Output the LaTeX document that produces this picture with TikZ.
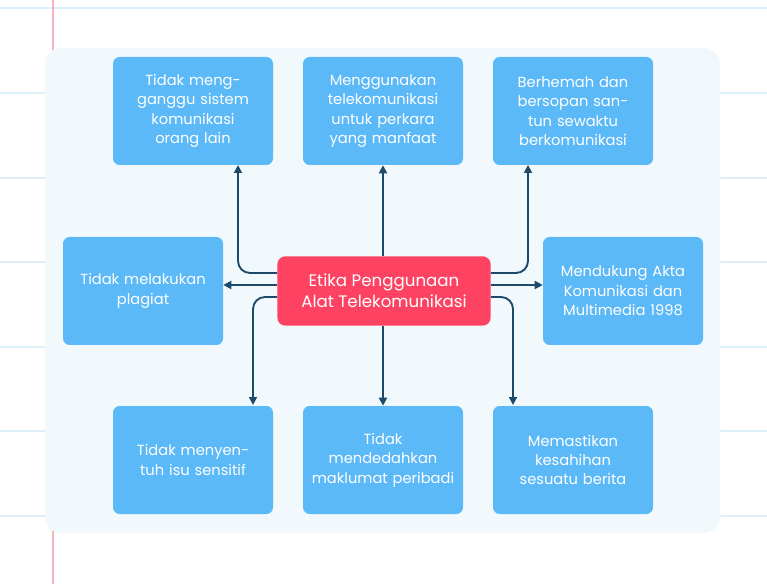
\documentclass[tikz,border=0pt]{standalone}
\usepackage{fontspec}
\setmainfont{Poppins}
\usetikzlibrary{positioning, arrows.meta}
\definecolor{boxblue}{HTML}{5BB9F8}
\definecolor{hubred}{HTML}{FE4262}
\definecolor{linknavy}{HTML}{1E4A6A}
\definecolor{panelbg}{HTML}{F1F9FD}
\definecolor{ruleblue}{HTML}{DCEFFA}
\definecolor{marginred}{HTML}{F6B3BE}

\tikzset{
    topic/.style={draw=none, fill=boxblue, rounded corners=5pt, text=white,
        minimum width=120pt, minimum height=81pt, text width=108pt, align=center,
        font=\fontsize{11}{14.5}\selectfont},
    hub/.style={fill=hubred, rounded corners=6pt, text=white,
        minimum width=160pt, minimum height=52pt, align=center,
        font=\fontsize{12.5}{16}\selectfont},
    link/.style={draw=linknavy, line width=1.4pt, rounded corners=9pt,
        -{Triangle[length=6pt, width=6pt]}},
}

\begin{document}
\begin{tikzpicture}[x=0.75pt, y=-0.75pt]
\useasboundingbox (0,0) rectangle (767,584);
% notebook page
\foreach \y in {8,93,178,262,347,431,516}
    \draw[ruleblue, line width=1pt] (0,\y) -- (767,\y);
\draw[marginred, line width=1pt] (53,0) -- (53,584);
\fill[panelbg, rounded corners=12pt] (45,48) rectangle (720,533);

\node[hub] (hub) at (384,291) {Etika Penggunaan\\Alat Telekomunikasi};

\node[topic] (tl) at (193,111) {Tidak mengganggu sistem komunikasi orang lain};
\node[topic] (tm) at (383,111) {Menggunakan telekomunikasi untuk perkara yang manfaat};
\node[topic] (tr) at (573,111) {Berhemah dan bersopan santun sewaktu berkomunikasi};
\node[topic] (ml) at (143,291) {Tidak melakukan plagiat};
\node[topic] (mr) at (623,291) {Mendukung Akta Komunikasi dan Multimedia 1998};
\node[topic] (bl) at (193,460) {Tidak menyentuh isu sensitif};
\node[topic] (bm) at (383,460) {Tidak mendedahkan maklumat peribadi};
\node[topic] (br) at (573,460) {Memastikan kesahihan sesuatu berita};

\draw[link] (hub.west |- 0,273) -| (238,165);
\draw[link] (hub.north -| tm) -- (tm.south);
\draw[link] (hub.east |- 0,273) -| (528,165);
\draw[link] (hub.west |- 0,285) -- (ml.east |- 0,285);
\draw[link] (hub.east |- 0,285) -- (mr.west |- 0,285);
\draw[link] (hub.west |- 0,297) -| (253,405);
\draw[link] (hub.south -| bm) -- (bm.north);
\draw[link] (hub.east |- 0,297) -| (513,405);
\end{tikzpicture}
\end{document}
